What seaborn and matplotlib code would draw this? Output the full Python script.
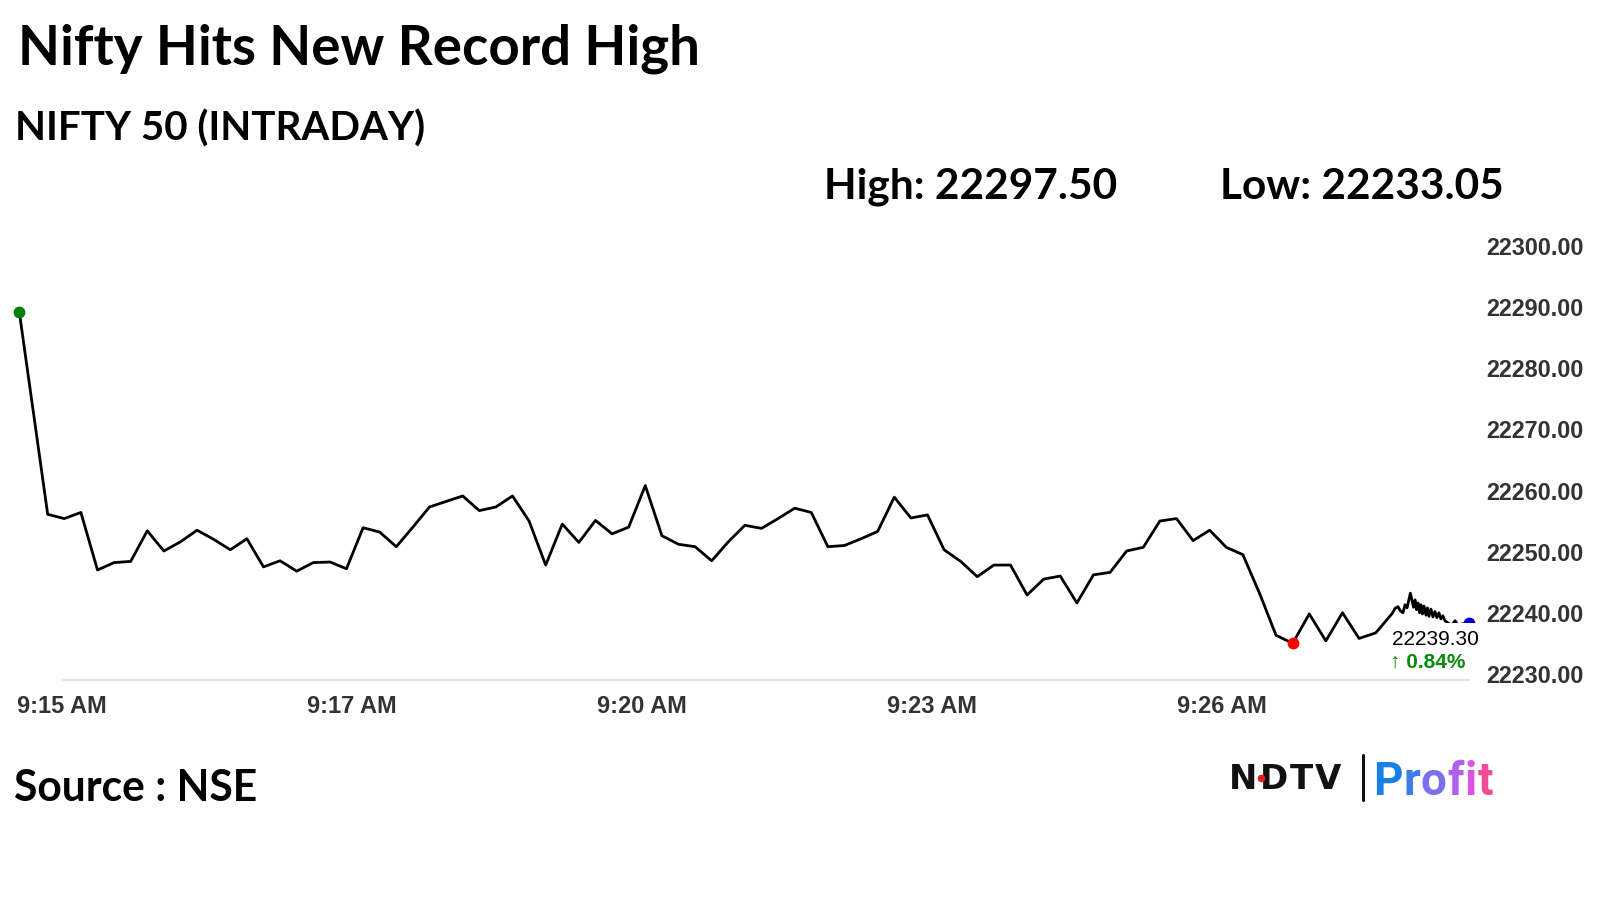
import numpy as np
import pandas as pd
import matplotlib.pyplot as plt
import seaborn as sns
from matplotlib.transforms import ScaledTranslation
from matplotlib.offsetbox import TextArea, HPacker, AnnotationBbox

# NIFTY 50 intraday samples
main_vals = [22290.2, 22257.1, 22256.4, 22257.4, 22248.0, 22249.2, 22249.4, 22254.4, 22251.1, 22252.6,
             22254.5, 22253.0, 22251.3, 22253.1, 22248.5, 22249.5, 22247.8, 22249.2, 22249.3, 22248.2,
             22254.9, 22254.2, 22251.8, 22255.0, 22258.3, 22259.2, 22260.1, 22257.7, 22258.3, 22260.1,
             22256.0, 22248.8, 22255.5, 22252.5, 22256.1, 22253.9, 22255.0, 22261.8, 22253.6, 22252.2,
             22251.8, 22249.5, 22252.6, 22255.3, 22254.8, 22256.4, 22258.1, 22257.4, 22251.8, 22252.0,
             22253.1, 22254.3, 22259.9, 22256.5, 22257.0, 22251.3, 22249.4, 22246.9, 22248.8, 22248.8,
             22243.9, 22246.5, 22247.0, 22242.6, 22247.2, 22247.6, 22251.1, 22251.7, 22256.0, 22256.4,
             22252.8, 22254.5, 22251.7, 22250.5, 22244.2, 22237.3, 22236.0, 22240.8, 22236.4, 22241.0,
             22236.8, 22237.7, 22240.9]
main_pos = [0] + list(1.71 + np.arange(len(main_vals) - 1))

# last few minutes come in as fast ticks
tail_pos = [82.87, 83.05, 83.20, 83.35, 83.48, 83.60, 83.80, 83.90, 83.99, 84.08,
            84.17, 84.26, 84.35, 84.44, 84.53, 84.62, 84.74, 84.83, 84.92, 85.04,
            85.16, 85.28, 85.40, 85.52, 85.64, 85.76, 85.88, 86.13, 86.31, 86.49,
            86.67, 86.97, 87.35]
tail_vals = [22241.7, 22242.0, 22241.3, 22241.0, 22242.3, 22241.8, 22244.2, 22243.0, 22241.9, 22243.1,
             22241.5, 22242.6, 22241.0, 22242.3, 22240.8, 22242.1, 22240.6, 22241.8, 22240.4, 22241.6,
             22240.3, 22241.2, 22240.2, 22241.0, 22240.0, 22240.5, 22239.7, 22239.2, 22239.0, 22239.7,
             22239.0, 22239.2, 22239.30]

tick_pos = [0, 17.47, 34.94, 52.41, 69.88, 87.35]
tick_labels = ['9:15 AM', '9:17 AM', '9:20 AM', '9:23 AM', '9:26 AM', '']
y_ticks = [22230, 22240, 22250, 22260, 22270, 22280, 22290, 22300]

day_high = 22297.50
day_low = 22233.05
close = 22239.30
change_pct = 0.84

df = pd.DataFrame({'pos': main_pos + tail_pos, 'value': main_vals + tail_vals})

sns.set_style('white')
plt.rcParams['font.family'] = ['Liberation Sans', 'DejaVu Sans']

fig = plt.figure(figsize=(16, 9), dpi=100)
ax = fig.add_axes([19.3 / 1600, 220 / 900, 1450 / 1600, 428 / 900])

sns.lineplot(data=df, x='pos', y='value', ax=ax, color='black', lw=2.0, zorder=2)

# open, low and last points
imin = int(np.argmin(df['value']))
ax.plot(df['pos'].iloc[0], df['value'].iloc[0], 'o', color='green', ms=7.5, clip_on=False, zorder=4)
ax.plot(df['pos'].iloc[imin], df['value'].iloc[imin], 'o', color='red', ms=7.5, clip_on=False, zorder=4)
ax.plot(df['pos'].iloc[-1], df['value'].iloc[-1], 'o', color='#0000cc', ms=7.5, clip_on=False, zorder=3)

# last price label sits on a white box that covers the end of the line
ax.annotate(f'{close:.2f}', xy=(df['pos'].iloc[-1], close), xytext=(-55.5, -11.5), textcoords='offset points',
            ha='left', va='center', fontsize=15, color='black', zorder=6,
            bbox=dict(boxstyle='square,pad=0.3', fc='white', ec='none'))
ax.annotate(f'\u2191 {change_pct:.2f}%', xy=(df['pos'].iloc[-1], close), xytext=(-57, -28),
            textcoords='offset points', ha='left', va='center', fontsize=15, fontweight='bold',
            color='#0a8a0a', zorder=6)

ax.set_xlim(0, tick_pos[-1])
ax.set_ylim(y_ticks[0], y_ticks[-1])
ax.set_xlabel('')
ax.set_ylabel('')

ax.set_xticks(tick_pos)
ax.set_xticklabels(tick_labels)
ax.yaxis.tick_right()
ax.set_yticks(y_ticks)
ax.set_yticklabels([f'{v:.2f}' for v in y_ticks])

ax.tick_params(axis='x', length=6, width=1, color='#d6d6d6', pad=5, labelsize=17, labelcolor='#333333')
ax.tick_params(axis='y', length=0, pad=12, labelsize=16.8, labelcolor='#333333')
for lab in ax.get_xticklabels():
    lab.set_fontweight('bold')
    lab.set_horizontalalignment('left')
    lab.set_transform(lab.get_transform() + ScaledTranslation(-2 / 100, 0, fig.dpi_scale_trans))
for lab in ax.get_yticklabels():
    lab.set_fontweight('bold')
    lab.set_transform(lab.get_transform() + ScaledTranslation(0, 6 / 100, fig.dpi_scale_trans))

for s in ['top', 'left', 'right']:
    ax.spines[s].set_visible(False)
ax.spines['bottom'].set_color('#e3e3e3')
ax.spines['bottom'].set_linewidth(1.5)
ax.spines['bottom'].set_bounds(2.57, tick_pos[-1])

# headings
head = dict(family=['Lato', 'DejaVu Sans'], fontweight='bold', color='black', va='baseline')
fig.text(18 / 1600, 1 - 64 / 900, 'Nifty Hits New Record High', fontsize=39.3, **head)
fig.text(15 / 1600, 1 - 141 / 900, 'NIFTY 50 (INTRADAY)', fontsize=29, **head)
fig.text(824 / 1600, 1 - 199 / 900, f'High: {day_high:.2f}', fontsize=30.5, **head)
fig.text(1220 / 1600, 1 - 199 / 900, f'Low: {day_low:.2f}', fontsize=30.5, **head)
fig.text(14 / 1600, 1 - 801 / 900, 'Source : NSE', fontsize=30.7, **head)

# NDTV | Profit logo
ndtv = [TextArea(ch, textprops=dict(color='#111111', fontsize=24.5, fontweight='bold', family='DejaVu Sans'))
        for ch in 'NDTV']
fig.add_artist(AnnotationBbox(HPacker(children=ndtv, align='baseline', pad=0, sep=1.5),
                              (1229, 900 - 796), xycoords='figure pixels', box_alignment=(0, 0),
                              frameon=False, pad=0))
fig.add_artist(plt.Line2D([1261 / 1600], [1 - 778 / 900], marker='o', ms=4.5, color='#e02020',
                          transform=fig.transFigure, zorder=5))
fig.add_artist(plt.Line2D([1363 / 1600, 1363 / 1600], [1 - 755 / 900, 1 - 800 / 900], lw=2.2,
                          color='#111111', transform=fig.transFigure))
letters = ['P', 'r', 'o', 'f', 'i', 't']
letter_colors = ['#1a7fe3', '#3d7cea', '#7a6fec', '#b05fee', '#dc52e2', '#ee4d96']
boxes = [TextArea(ch, textprops=dict(color=c, fontsize=33, fontweight='bold', family='Roboto'))
         for ch, c in zip(letters, letter_colors)]
pack = HPacker(children=boxes, align='baseline', pad=0, sep=0.5)
fig.add_artist(AnnotationBbox(pack, (1373, 900 - 804), xycoords='figure pixels', box_alignment=(0, 0),
                              frameon=False, pad=0))

plt.savefig('out.png', dpi=100, facecolor='white')
